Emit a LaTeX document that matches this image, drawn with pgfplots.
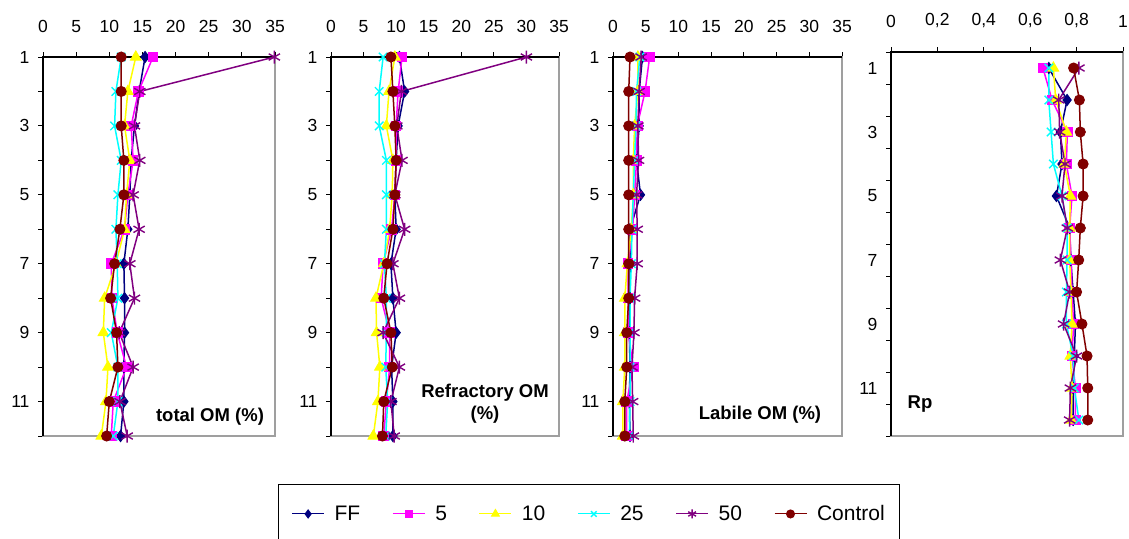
\documentclass[border=0pt]{standalone}
\usepackage{pgfplots}
\usepackage{pgfplotstable}
\pgfplotsset{compat=1.18}
\usepackage{fontspec}
\setmainfont{Liberation Sans}

\definecolor{cFF}{RGB}{0,0,128}
\definecolor{cFive}{RGB}{255,0,255}
\definecolor{cTen}{RGB}{255,255,0}
\definecolor{cTwf}{RGB}{0,255,255}
\definecolor{cFty}{RGB}{128,0,128}
\definecolor{cCtl}{RGB}{128,0,0}

% columns: depth, FF, 5, 10, 25, 50, Control
\pgfplotstableread{
y ff s5 s10 s25 s50 ctl
1 15.4 16.6 14.0 11.8 34.9 11.8
2 14.5 14.4 12.8 11.0 14.6 11.8
3 13.8 13.3 12.3 10.8 13.8 11.8
4 13.3 13.6 13.1 11.8 14.6 12.2
5 13.1 12.8 12.6 11.3 13.6 12.2
6 12.8 12.3 12.3 11.0 14.5 11.6
7 12.2 10.3 11.0 11.2 13.1 10.8
8 12.3 10.4 9.3 11.3 13.8 10.2
9 12.3 11.2 9.1 10.3 11.5 11.1
10 12.2 12.6 9.8 11.3 13.6 11.3
11 12.2 10.6 9.5 11.3 11.6 10.0
12 11.7 10.3 8.8 10.6 12.7 9.6
}\totalOM

\pgfplotstableread{
y ff s5 s10 s25 s50 ctl
1 10.5 10.9 9.8 8.0 30.0 9.2
2 11.3 10.3 8.9 7.4 10.8 9.5
3 10.3 10.0 8.5 7.4 10.1 9.8
4 10.0 10.0 9.5 8.5 10.9 10.0
5 9.8 9.8 9.4 8.5 9.8 9.8
6 10.0 9.3 9.0 8.5 11.3 9.5
7 9.2 8.0 8.1 8.2 9.5 8.6
8 9.5 7.7 6.9 8.5 10.5 8.1
9 10.0 9.0 7.0 8.5 8.0 9.2
10 9.3 9.0 7.5 8.4 10.5 9.4
11 9.5 8.5 7.2 8.7 9.2 8.1
12 9.5 8.1 6.5 8.4 9.7 7.9
}\refrOM

\pgfplotstableread{
y ff s5 s10 s25 s50 ctl
1 4.5 5.6 3.8 4.1 4.3 2.6
2 4.0 4.9 3.8 3.6 4.0 2.4
3 4.0 3.7 3.3 3.5 3.8 2.4
4 3.6 3.6 3.1 3.3 3.9 2.4
5 4.2 3.3 3.1 3.1 3.6 2.4
6 2.6 3.0 2.8 2.9 3.7 2.4
7 2.6 2.3 2.2 2.8 3.7 2.4
8 2.6 2.3 1.8 2.6 3.3 2.4
9 2.5 2.3 1.8 2.6 3.2 2.1
10 2.6 3.1 1.8 2.6 2.9 2.1
11 2.5 2.1 1.5 2.6 3.0 1.8
12 2.6 2.1 1.5 2.5 3.1 1.8
}\labOM

\pgfplotstableread{
y ff s5 s10 s25 s50 ctl
1 0.680 0.655 0.700 0.680 0.810 0.787
2 0.759 0.694 0.710 0.680 0.723 0.812
3 0.730 0.760 0.756 0.690 0.727 0.816
4 0.737 0.756 0.747 0.700 0.750 0.828
5 0.713 0.780 0.773 0.737 0.737 0.828
6 0.770 0.770 0.770 0.759 0.760 0.816
7 0.775 0.776 0.770 0.759 0.730 0.809
8 0.785 0.780 0.776 0.756 0.770 0.800
9 0.795 0.787 0.780 0.756 0.744 0.823
10 0.790 0.780 0.773 0.785 0.800 0.845
11 0.785 0.795 0.780 0.790 0.773 0.848
12 0.785 0.795 0.776 0.810 0.770 0.848
}\rpData

\pgfplotsset{
  sFF/.style={color=cFF, line width=1.5pt, mark=diamond*, mark size=5.5pt, mark options={solid, line width=1pt}},
  sFive/.style={color=cFive, line width=1.5pt, mark=square*, mark size=4.8pt, mark options={solid, line width=1pt}},
  sTen/.style={color=cTen, line width=1.5pt, mark=triangle*, mark size=6pt, mark options={solid, line width=1pt}},
  sTwf/.style={color=cTwf, line width=1.5pt, mark=x, mark size=6pt, mark options={solid, line width=1.4pt}},
  sFty/.style={color=cFty, line width=1.5pt, mark=asterisk, mark size=6.5pt, mark options={solid, line width=1.4pt}},
  sCtl/.style={color=cCtl, line width=1.5pt, mark=*, mark size=5pt, mark options={solid, line width=1pt, fill=cCtl, draw=cCtl}},
  panel/.style={
    scale only axis, clip=false, y dir=reverse,
    axis line style={draw=gray!75, line width=1.2pt},
    tick align=outside, major tick length=5pt,
    tick style={black, line width=1pt},
    xtick pos=right, xticklabel pos=right, ytick pos=left,
    tick label style={font=\fontsize{17.5}{20}\selectfont},
    /pgf/number format/assume math mode=true,
    xticklabel style={yshift=16pt},
    yticklabel style={xshift=-5pt},
  },
  omPanel/.style={panel, width=230pt, height=379pt,
    xmin=0, xmax=35, ymin=1, ymax=12,
    xtick={0,5,...,35}, ytick={1,...,12},
    yticklabels={1,,3,,5,,7,,9,,11,}},
}

\newcommand{\plotall}[1]{%
  \addplot[sFF] table[x=ff,y=y] {#1};
  \addplot[sFive] table[x=s5,y=y] {#1};
  \addplot[sTen] table[x=s10,y=y] {#1};
  \addplot[sTwf] table[x=s25,y=y] {#1};
  \addplot[sFty] table[x=s50,y=y] {#1};
  \addplot[sCtl] table[x=ctl,y=y] {#1};
}

\begin{document}
\begin{tikzpicture}
\useasboundingbox (0,0) rectangle (1129pt,-538pt);

\begin{axis}[omPanel, width=232pt, at={(43pt,-57pt)}, anchor=north west]
  \draw[black, line width=1.2pt] (axis cs:0,12) -- (axis cs:0,1) -- (axis cs:35,1);
  \plotall{\totalOM}
\end{axis}

\begin{axis}[omPanel, width=228pt, at={(331pt,-57pt)}, anchor=north west]
  \draw[black, line width=1.2pt] (axis cs:0,12) -- (axis cs:0,1) -- (axis cs:35,1);
  \plotall{\refrOM}
\end{axis}

\begin{axis}[omPanel, width=229pt, at={(613pt,-57pt)}, anchor=north west]
  \draw[black, line width=1.2pt] (axis cs:0,12) -- (axis cs:0,1) -- (axis cs:35,1);
  \plotall{\labOM}
\end{axis}

\begin{axis}[panel, width=232pt, height=384pt, at={(891pt,-52pt)}, anchor=north west,
  xmin=0, xmax=1, ymin=0.5, ymax=12.5,
  xtick={0,0.2,...,1}, ytick={1,3,...,11},
  minor ytick={0.5,1.5,...,12.5}, minor tick length=5pt,
  major y tick style={draw=none},
  xticklabel style={/pgf/number format/.cd, use comma, fixed, precision=1},
  yticklabel style={xshift=0pt}]
  \draw[black, line width=1.2pt] (axis cs:0,12.5) -- (axis cs:0,0.5) -- (axis cs:1,0.5);
  \plotall{\rpData}
\end{axis}

% panel titles
\node[font=\bfseries\fontsize{18.5}{22}\selectfont] at (210pt,-417pt) {total OM (\%)};
\node[font=\bfseries\fontsize{18.5}{22}\selectfont, align=center] at (485pt,-404pt) {Refractory OM\\(\%)};
\node[font=\bfseries\fontsize{18.5}{22}\selectfont] at (760pt,-415pt) {Labile OM (\%)};
\node[font=\bfseries\fontsize{18.5}{22}\selectfont] at (920pt,-404pt) {Rp};

% legend
\begin{axis}[scale only axis, width=10pt, height=10pt, hide axis,
  at={(278pt,-484pt)}, anchor=north west, xmin=0, xmax=1, ymin=0, ymax=1,
  legend columns=6,
  legend image code/.code={\draw[mark repeat=2, mark phase=2, #1] plot coordinates {(0pt,0pt) (16pt,0pt) (32pt,0pt)};},
  legend style={at={(0,1)}, anchor=north west, draw=black, line width=1.2pt,
    inner xsep=13pt, inner ysep=19pt,
    font=\fontsize{21}{24}\selectfont,
    /tikz/every odd column/.append style={column sep=8pt},
    /tikz/every even column/.append style={column sep=30pt}}]
  \addlegendimage{sFF, line width=1pt, mark size=4pt}
  \addlegendentry{FF}
  \addlegendimage{sFive, line width=1pt, mark size=3.5pt}
  \addlegendentry{5}
  \addlegendimage{sTen, line width=1pt, mark size=4.5pt}
  \addlegendentry{10}
  \addlegendimage{sTwf, line width=1pt, mark size=4pt}
  \addlegendentry{25}
  \addlegendimage{sFty, line width=1pt, mark size=4.5pt}
  \addlegendentry{50}
  \addlegendimage{sCtl, line width=1pt, mark size=4pt}
  \addlegendentry{Control}
\end{axis}
\end{tikzpicture}
\end{document}
